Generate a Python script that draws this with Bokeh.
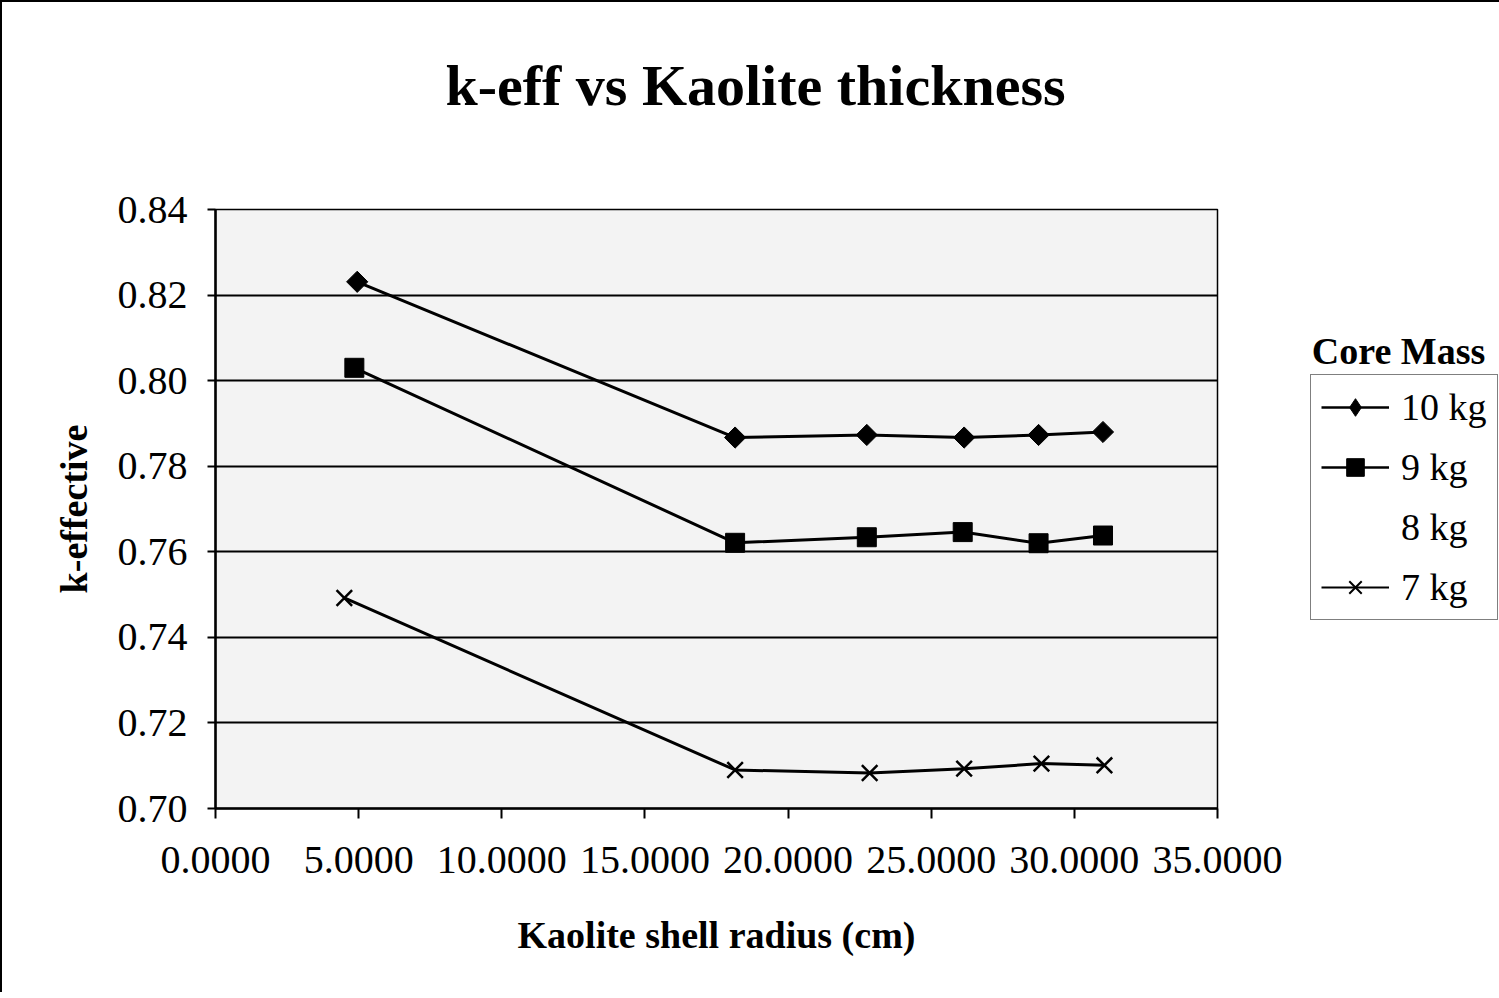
from bokeh.plotting import figure
from bokeh.layouts import row, column
from bokeh.models import Range1d, NumeralTickFormatter, FixedTicker, Legend, LegendItem, Label
from bokeh.embed import file_html
from bokeh.resources import INLINE
import numpy as np

# ---- data ----
chart_title = "k-eff vs Kaolite thickness"
series_names = ["10 kg", "9 kg", "8 kg", "7 kg"]
radius_10kg = [4.95, 18.15, 22.75, 26.15, 28.75, 31.0]
keff_10kg = [0.8231, 0.7867, 0.7873, 0.7867, 0.7873, 0.7880]
radius_9kg = [4.85, 18.15, 22.75, 26.1, 28.75, 31.0]
keff_9kg = [0.8030, 0.7621, 0.7634, 0.7646, 0.7620, 0.7638]
radius_8kg = []
keff_8kg = []
radius_7kg = [4.5, 18.15, 22.85, 26.15, 28.85, 31.05]
keff_7kg = [0.7492, 0.7090, 0.7083, 0.7093, 0.7105, 0.7101]
x_ticks = [0, 5, 10, 15, 20, 25, 30, 35]
y_ticks = [0.70, 0.72, 0.74, 0.76, 0.78, 0.80, 0.82, 0.84]

FONT = "Liberation Serif"
TITLE_H = 120

# ---- title strip ----
t = figure(width=1497, height=TITLE_H, output_backend="svg", toolbar_location=None,
           x_range=Range1d(0, 1), y_range=Range1d(0, 1),
           x_axis_type=None, y_axis_type=None,
           min_border_left=213, min_border_right=282, min_border_top=0, min_border_bottom=0)
t.outline_line_color = None
t.grid.visible = False
t.background_fill_color = "white"
t.border_fill_color = "white"
t.add_layout(Label(x=540, y=37, x_units="screen", y_units="screen", text=chart_title,
                   text_font=FONT, text_font_size="58px", text_font_style="bold",
                   text_color="black", text_align="center", text_baseline="middle"))

# ---- main plot ----
p = figure(width=1292, height=990 - TITLE_H, output_backend="svg", toolbar_location=None,
           x_range=Range1d(0, 35), y_range=Range1d(0.70, 0.84),
           min_border_left=213, min_border_right=77, min_border_top=207 - TITLE_H,
           min_border_bottom=184)

p.background_fill_color = "#f3f3f3"
p.border_fill_color = "white"
p.outline_line_color = "black"
p.outline_line_width = 1.5

for ax in (p.xaxis[0], p.yaxis[0]):
    ax.axis_line_color = "black"
    ax.axis_line_width = 2.5
    ax.major_tick_line_color = "black"
    ax.major_tick_line_width = 2
    ax.major_tick_in = 0
    ax.minor_tick_line_color = None
    ax.major_label_text_font = FONT
    ax.major_label_text_font_size = "40px"
    ax.major_label_text_color = "black"
    ax.axis_label_text_font = FONT
    ax.axis_label_text_font_size = "38px"
    ax.axis_label_text_font_style = "bold"
    ax.axis_label_text_color = "black"

p.xaxis.ticker = FixedTicker(ticks=x_ticks)
p.xaxis.formatter = NumeralTickFormatter(format="0.0000")
p.xaxis.major_tick_out = 10
p.xaxis.major_label_standoff = 28
p.xaxis.axis_label = "Kaolite shell radius (cm)"
p.xaxis.axis_label_standoff = 38

p.yaxis.ticker = FixedTicker(ticks=y_ticks)
p.yaxis.formatter = NumeralTickFormatter(format="0.00")
p.yaxis.major_tick_out = 8
p.yaxis.major_label_standoff = 20
p.yaxis.axis_label = "k-effective"
p.yaxis.axis_label_standoff = 20

p.xgrid.grid_line_color = None
p.ygrid.grid_line_color = "black"
p.ygrid.grid_line_width = 2

p.line(radius_10kg, keff_10kg, line_color="black", line_width=3)
p.scatter(radius_10kg, keff_10kg, marker="square", angle=np.pi / 4, size=15,
          fill_color="black", line_color="black")
p.line(radius_9kg, keff_9kg, line_color="black", line_width=3)
p.scatter(radius_9kg, keff_9kg, marker="square", size=19,
          fill_color="black", line_color="black")
p.line(radius_8kg, keff_8kg, line_color="black", line_alpha=0, line_width=0)
p.line(radius_7kg, keff_7kg, line_color="black", line_width=3)
p.scatter(radius_7kg, keff_7kg, marker="x", size=22,
          line_color="black", line_width=2.5)

# ---- legend panel (its frame is aligned with the plot's frame) ----
q = figure(width=205, height=990 - TITLE_H, output_backend="svg", toolbar_location=None,
           x_range=Range1d(-2, -1), y_range=Range1d(0.70, 0.84),
           x_axis_type=None, y_axis_type=None, min_border=0)
q.outline_line_color = None
q.grid.visible = False
q.background_fill_color = "white"
q.border_fill_color = "white"

# same series, drawn outside this panel's visible range: only their legend glyphs show
g10l = q.line(radius_10kg, keff_10kg, line_color="black", line_width=2.5)
g10m = q.scatter(radius_10kg, keff_10kg, marker="diamond", size=24,
                 fill_color="black", line_color="black")
g9l = q.line(radius_9kg, keff_9kg, line_color="black", line_width=2.5)
g9m = q.scatter(radius_9kg, keff_9kg, marker="square", size=19,
                fill_color="black", line_color="black")
g8l = q.line(radius_8kg, keff_8kg, line_color="black", line_alpha=0, line_width=0)
g7l = q.line(radius_7kg, keff_7kg, line_color="black", line_width=2)
g7m = q.scatter(radius_7kg, keff_7kg, marker="x", size=18,
                line_color="black", line_width=2)

legend = Legend(items=[
    LegendItem(label=series_names[0], renderers=[g10l, g10m]),
    LegendItem(label=series_names[1], renderers=[g9l, g9m]),
    LegendItem(label=series_names[2], renderers=[g8l]),
    LegendItem(label=series_names[3], renderers=[g7l, g7m]),
], location=(16, 188))
legend.label_text_font = FONT
legend.label_text_font_size = "38px"
legend.label_text_color = "black"
legend.glyph_width = 68
legend.glyph_height = 44
legend.label_height = 44
legend.spacing = 16
legend.padding = 10
legend.margin = 0
legend.label_standoff = 12
legend.border_line_color = "black"
legend.border_line_width = 1.5
legend.background_fill_color = "white"
legend.background_fill_alpha = 1
q.add_layout(legend, "center")

q.add_layout(Label(x=104, y=458, x_units="screen", y_units="screen",
                   text="Core Mass", text_font=FONT, text_font_size="38px",
                   text_font_style="bold", text_color="black", text_align="center",
                   text_baseline="middle"))

layout = column(t, row(p, q, spacing=0), spacing=0)
layout.styles = {"border-left": "2px solid black", "border-top": "2px solid black"}

open("out.html", "w").write(file_html(layout, INLINE))
